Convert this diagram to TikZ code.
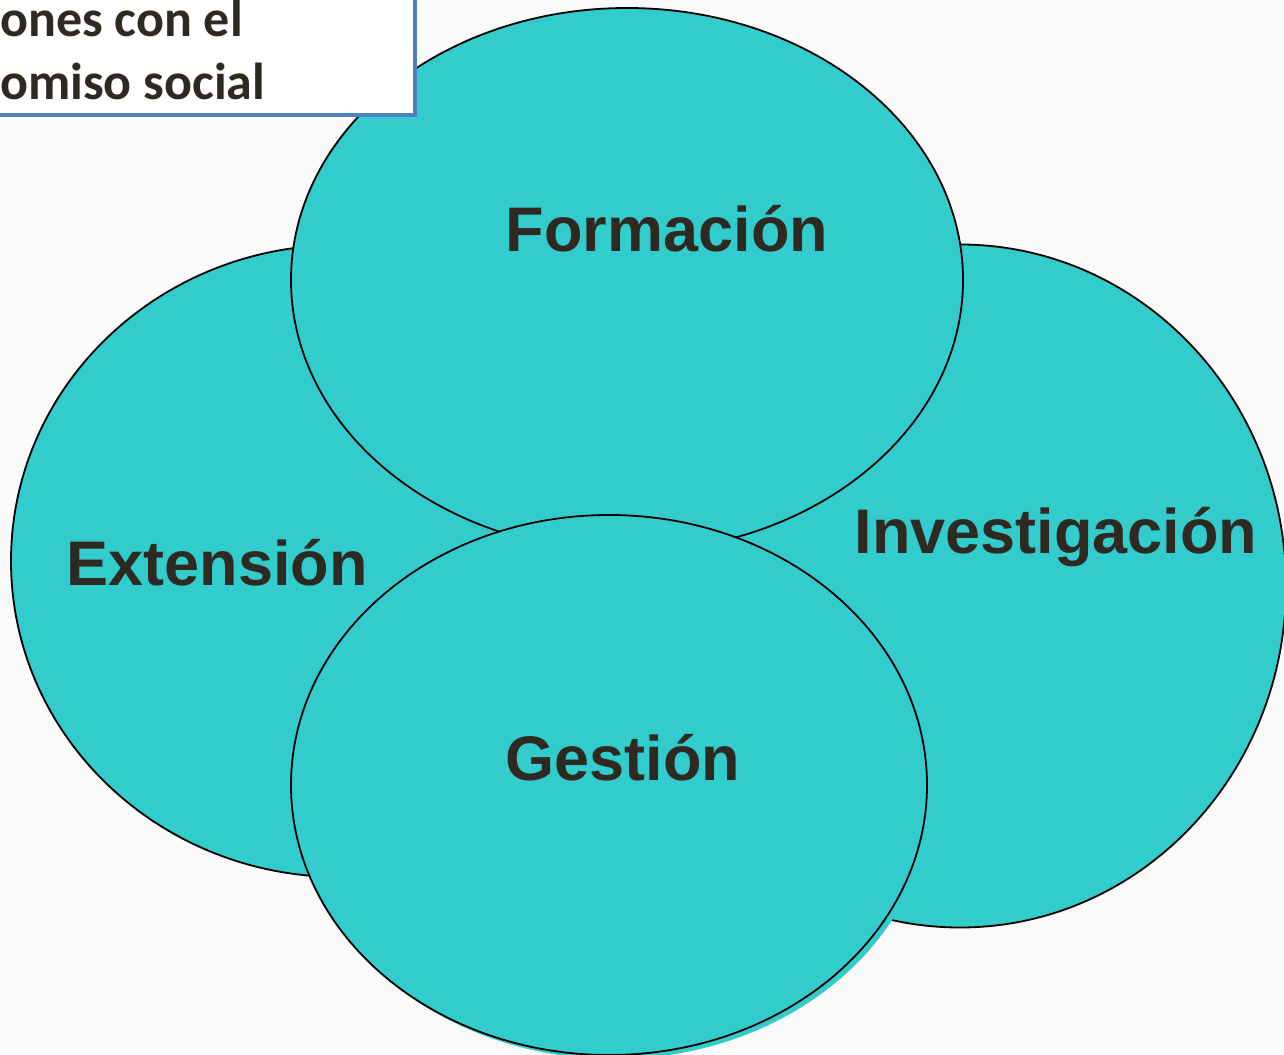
\documentclass[tikz,border=0pt]{standalone}
\usepackage{fontspec}
\setmainfont{Liberation Sans}
\newfontfamily\boxfont{Carlito}
\usetikzlibrary{shapes.geometric}
\definecolor{teal1}{HTML}{33CCCC}
\definecolor{txt}{HTML}{2E2A22}
\definecolor{bluebd}{HTML}{4F81BD}
\definecolor{bg}{HTML}{FAFAFA}
\begin{document}
\begin{tikzpicture}[x=1pt,y=-1pt,
  circ/.style={ellipse, draw=black, line width=1.8pt, fill=teal1, inner sep=0pt},
  lbl/.style={anchor=base, inner sep=0pt, text=txt, font=\fontsize{63}{75}\selectfont\bfseries},
  boxtxt/.style={anchor=base west, inner sep=0pt, text=txt, font=\boxfont\fontsize{52}{62}\selectfont\bfseries}]
\useasboundingbox (0,0) rectangle (1284,1054);
\clip (0,0) rectangle (1284,1054);
\fill[bg] (0,0) rectangle (1284,1054);
% side ellipses
\node[circ, minimum width=658pt, minimum height=632pt] (ext) at (340,561) {};
\node[circ, minimum width=652pt, minimum height=683pt] (inv) at (960,586) {};
% top ellipse
\node[circ, minimum width=672pt, minimum height=544pt] (for) at (627,280) {};
% bottom ellipse with shadow
\node[ellipse, fill=teal1, inner sep=0pt, minimum width=636pt, minimum height=540pt] (gesshadow) at (614,789) {};
\node[circ, minimum width=636pt, minimum height=540pt] (ges) at (609,785) {};
% title box
\draw[bluebd, line width=4pt, fill=white] (-20,-20) rectangle (415,115);
\node[boxtxt] (t1) at (0,37) {ones con el};
\node[boxtxt] (t2) at (0,100) {omiso social};
% labels
\node[lbl] (lfor) at (667,251) {Formación};
\node[lbl] (linv) at (1056,553) {Investigación};
\node[lbl] (lext) at (217,585) {Extensión};
\node[lbl] (lges) at (623,780) {Gestión};
\end{tikzpicture}
\end{document}
